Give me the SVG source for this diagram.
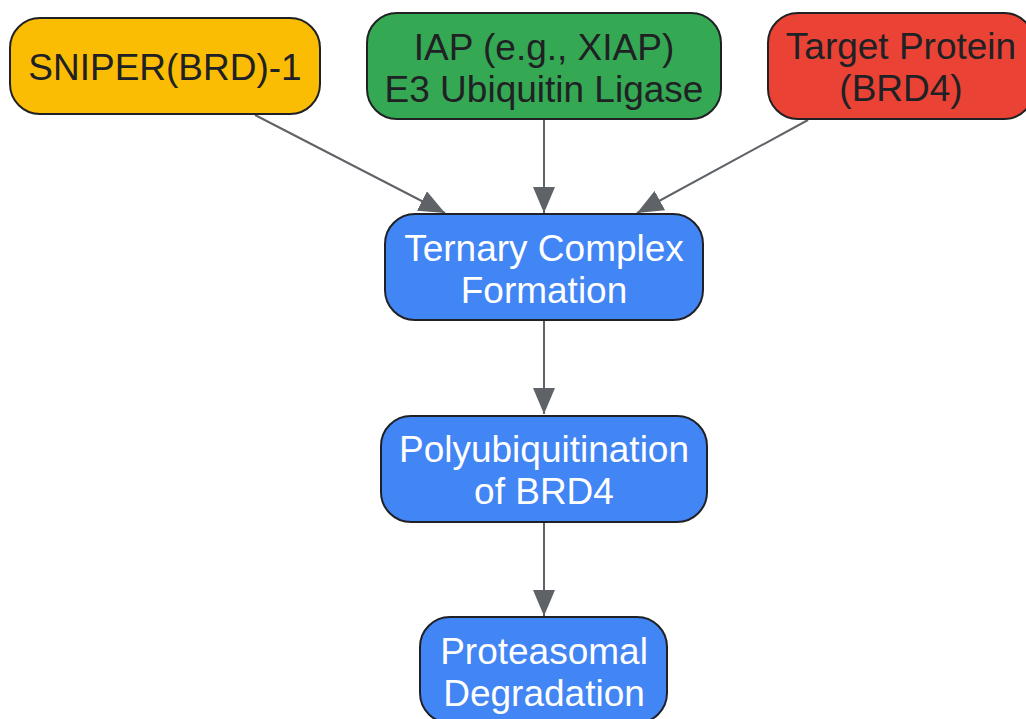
<svg xmlns="http://www.w3.org/2000/svg" width="1026" height="719" viewBox="0 0 1026 719">
<defs>
<marker id="arr" viewBox="0 0 26 22" refX="26" refY="11" markerWidth="26" markerHeight="22" markerUnits="userSpaceOnUse" orient="auto">
<path d="M0,0 L26,11 L0,22 Z" fill="#5f6368"/>
</marker>
<style>
.n{stroke:#202124;stroke-width:2}
.t{font-family:"Liberation Sans",Arial,sans-serif;font-size:37px;text-anchor:middle}
.d{fill:#202124}
.w{fill:#ffffff}
.e{stroke:#5f6368;stroke-width:2;fill:none;marker-end:url(#arr)}
</style>
</defs>
<rect width="1026" height="719" fill="#ffffff"/>
<g id="connectors">
<line class="e" x1="255" y1="115" x2="445" y2="213"/>
<line class="e" x1="544" y1="120" x2="544" y2="213"/>
<line class="e" x1="808" y1="120" x2="637" y2="213"/>
<line class="e" x1="544" y1="321" x2="544" y2="414"/>
<line class="e" x1="544" y1="522" x2="544" y2="616"/>
</g>
<g id="sniper">
<rect class="n" x="10" y="18" width="310" height="96" rx="30" fill="#fbbc04"/>
<text class="t d" x="165" y="80">SNIPER(BRD)-1</text>
</g>
<g id="iap">
<rect class="n" x="367" y="13" width="354" height="106" rx="30" fill="#34a853"/>
<text class="t d" x="544" y="60">IAP (e.g., XIAP)</text>
<text class="t d" x="544" y="102">E3 Ubiquitin Ligase</text>
</g>
<g id="target">
<rect class="n" x="768" y="13" width="266" height="106" rx="30" fill="#ea4335"/>
<text class="t d" x="901" y="59">Target Protein</text>
<text class="t d" x="901" y="101">(BRD4)</text>
</g>
<g id="ternary">
<rect class="n" x="385" y="214" width="318" height="106" rx="30" fill="#4285f4"/>
<text class="t w" x="544" y="261">Ternary Complex</text>
<text class="t w" x="544" y="303">Formation</text>
</g>
<g id="polyub">
<rect class="n" x="381" y="416" width="326" height="106" rx="30" fill="#4285f4"/>
<text class="t w" x="544" y="462">Polyubiquitination</text>
<text class="t w" x="544" y="504">of BRD4</text>
</g>
<g id="proteasomal">
<rect class="n" x="420" y="617" width="247" height="106" rx="30" fill="#4285f4"/>
<text class="t w" x="544" y="664">Proteasomal</text>
<text class="t w" x="544" y="706">Degradation</text>
</g>
</svg>
